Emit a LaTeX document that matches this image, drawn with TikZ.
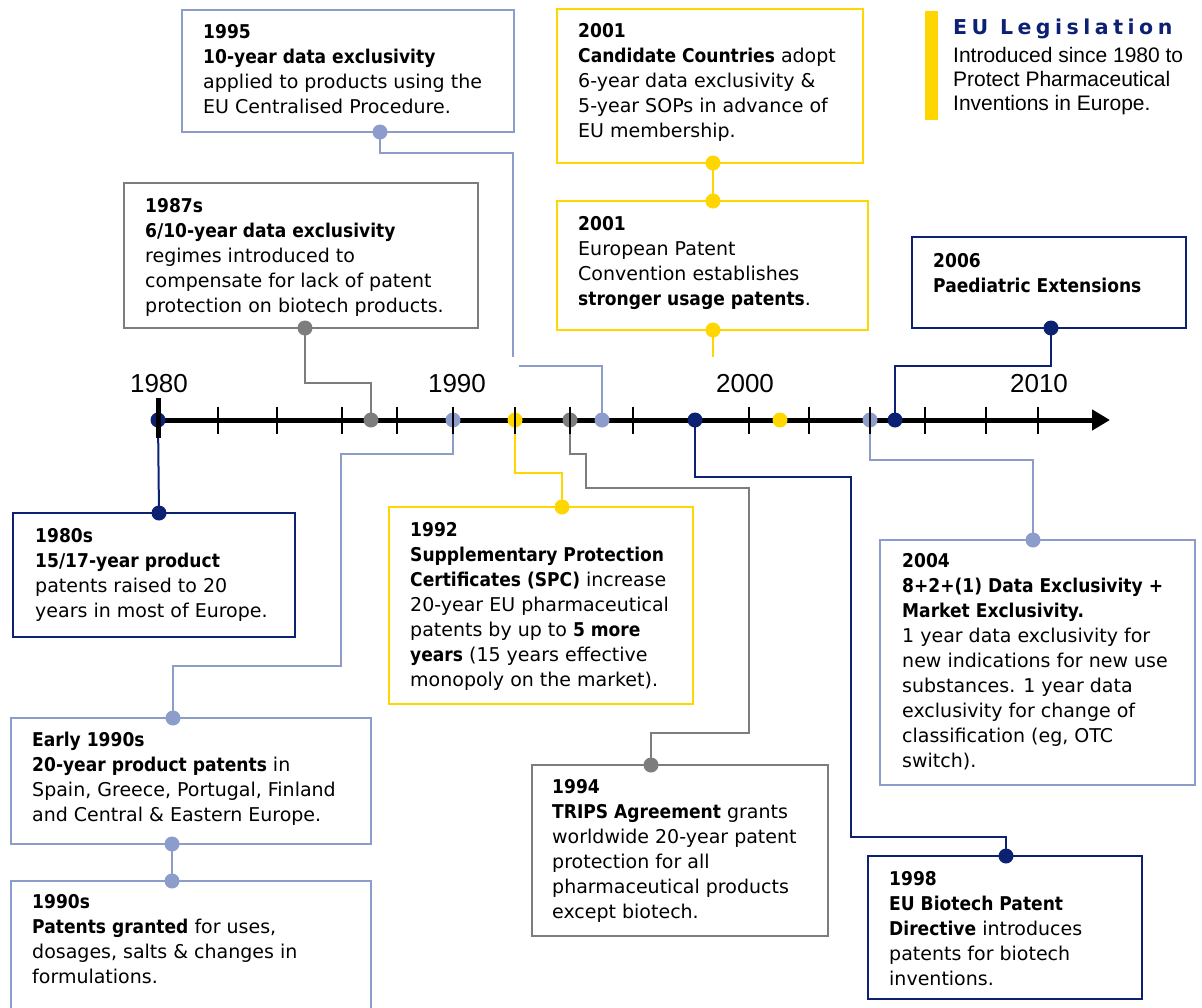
\documentclass[tikz,border=0pt]{standalone}
\usepackage{fontspec}
\setmainfont{DejaVu Sans}[BoldFeatures={FakeStretch=0.9}]
\newfontfamily\yearfont{Liberation Sans}
\newfontfamily\legfont{DejaVu Sans}[LetterSpace=22]
\usetikzlibrary{arrows.meta}
\definecolor{navyc}{RGB}{13,33,115}
\definecolor{lbc}{RGB}{140,157,204}
\definecolor{greyc}{RGB}{125,125,125}
\definecolor{yelc}{RGB}{255,214,0}
\newcommand\boxfont{\fontsize{19}{25}\selectfont}
\pgfdeclarelayer{bg}
\pgfsetlayers{bg,main}
\tikzset{
  box/.style={draw=#1, line width=2pt, anchor=north west, inner sep=0pt, outer sep=0pt},
  txt/.style={anchor=north west, inner sep=0pt, align=left, font=\boxfont},
  dot/.style={circle, fill=#1, inner sep=0pt, minimum size=15pt},
  con/.style={draw=#1, line width=2pt},
  yr/.style={font=\yearfont\fontsize{26}{30}\selectfont, anchor=base, inner sep=0pt},
}
\begin{document}
\begin{tikzpicture}[x=1pt,y=-1pt]
\useasboundingbox (0,0) rectangle (1202,1007);
\clip (0,0) rectangle (1202,1007);

% boxes
\node[box=lbc,   minimum width=332pt, minimum height=122pt] (b95)  at (182,10) {};
\node[box=greyc, minimum width=354pt, minimum height=145pt] (b87)  at (124,183) {};
\node[box=yelc,  minimum width=306pt, minimum height=154pt] (b01a) at (557,9) {};
\node[box=yelc,  minimum width=311pt, minimum height=129pt] (b01b) at (557,201) {};
\node[box=navyc, minimum width=274pt, minimum height=91pt]  (b06)  at (912,237) {};
\node[box=navyc, minimum width=282pt, minimum height=124pt] (b80)  at (13,513) {};
\node[box=yelc,  minimum width=304pt, minimum height=197pt] (b92)  at (389,507) {};
\node[box=lbc,   minimum width=360pt, minimum height=126pt] (bE90) at (11,718) {};
\node[box=lbc,   minimum width=360pt, minimum height=150pt] (b90s) at (11,881) {};
\node[box=greyc, minimum width=296pt, minimum height=171pt] (b94)  at (532,765) {};
\node[box=navyc, minimum width=274pt, minimum height=143pt] (b98)  at (868,856) {};
\node[box=lbc,   minimum width=315pt, minimum height=245pt] (b04)  at (880,540) {};

% texts
\node[txt] (t95) at (203,20.5) {\strut\textbf{1995}\\\textbf{10-year data exclusivity}\\applied to products using the\\EU Centralised Procedure.};
\node[txt] (t87) at (145,194.5) {\strut\textbf{1987s}\\\textbf{6/10-year data exclusivity}\\regimes introduced to\\compensate for lack of patent\\protection on biotech products.};
\node[txt] (t01a) at (578,19.5) {\strut\textbf{2001}\\\textbf{Candidate Countries} adopt\\6-year data exclusivity \&\\5-year SOPs in advance of\\EU membership.};
\node[txt] (t01b) at (578,212.5) {\strut\textbf{2001}\\European Patent\\Convention establishes\\\textbf{stronger usage patents}.};
\node[txt] (t06) at (933,249.5) {\strut\textbf{2006}\\\textbf{Paediatric Extensions}};
\node[txt] (t80) at (35,524.5) {\strut\textbf{1980s}\\\textbf{15/17-year product}\\patents raised to 20\\years in most of Europe.};
\node[txt] (t92) at (410,518.5) {\strut\textbf{1992}\\\textbf{Supplementary Protection}\\\textbf{Certificates (SPC)} increase\\20-year EU pharmaceutical\\patents by up to \textbf{5 more}\\\textbf{years} (15 years effective\\monopoly on the market).};
\node[txt] (tE90) at (32,728.5) {\strut\textbf{Early 1990s}\\\textbf{20-year product patents} in\\Spain, Greece, Portugal, Finland\\and Central \& Eastern Europe.};
\node[txt] (t90s) at (32,890.5) {\strut\textbf{1990s}\\\textbf{Patents granted} for uses,\\dosages, salts \& changes in\\formulations.};
\node[txt] (t94) at (552,775.5) {\strut\textbf{1994}\\\textbf{TRIPS Agreement} grants\\worldwide 20-year patent\\protection for all\\pharmaceutical products\\except biotech.};
\node[txt] (t98) at (889,867.5) {\strut\textbf{1998}\\\textbf{EU Biotech Patent}\\\textbf{Directive} introduces\\patents for biotech\\inventions.};
\node[txt] (t04) at (902,549.5) {\strut\textbf{2004}\\\textbf{8+2+(1) Data Exclusivity +}\\\textbf{Market Exclusivity.}\\1 year data exclusivity for\\new indications for new use\\substances. 1 year data\\exclusivity for change of\\classification (eg, OTC\\switch).};

% box dots
\node[dot=lbc]   (d95)   at (380,132) {};
\node[dot=greyc] (d87)   at (305,328) {};
\node[dot=yelc]  (d01a)  at (713,163) {};
\node[dot=yelc]  (d01bt) at (713,201) {};
\node[dot=yelc]  (d01b)  at (713,330) {};
\node[dot=navyc] (d06)   at (1051,328) {};
\node[dot=navyc] (d80)   at (159,513) {};
\node[dot=yelc]  (d92)   at (562,507) {};
\node[dot=lbc]   (dE90t) at (173,718) {};
\node[dot=lbc]   (dE90b) at (172,844) {};
\node[dot=lbc]   (d90s)  at (172,881) {};
\node[dot=greyc] (d94)   at (651,765) {};
\node[dot=navyc] (d98)   at (1006,856) {};
\node[dot=lbc]   (d04)   at (1033,540) {};

% axis dots
\node[dot=navyc] (a80) at (158,420) {};
\node[dot=greyc] (a87) at (371,420) {};
\node[dot=lbc]   (a90) at (453,420) {};
\node[dot=yelc]  (a92) at (515,420) {};
\node[dot=greyc] (a94) at (570,420) {};
\node[dot=lbc]   (a95) at (602,420) {};
\node[dot=navyc] (a98) at (695,420) {};
\node[dot=yelc]  (a01) at (780,420) {};
\node[dot=lbc]   (a04) at (870,420) {};
\node[dot=navyc] (a06) at (895,420) {};
\coordinate (axend) at (1110,420);
\coordinate (g95a) at (513,357);
\coordinate (g95b) at (519,366);
\coordinate (e01) at (713,357);

% ticks
\foreach \x in {218,277,342,397,453,515,570,633,749,809,870,925,986,1038}
  \draw[line width=2pt] (\x,406.5) -- (\x,433.5);
\draw[line width=5pt] (158,398) -- (158,438);

% year labels
\node[yr] (y80) at (159,392) {1980};
\node[yr] (y90) at (457,392) {1990};
\node[yr] (y00) at (745,392) {2000};
\node[yr] (y10) at (1039,392) {2010};

% legend
\fill[yelc] (925,11) rectangle (938,120);
\node[anchor=base west, inner sep=0pt, text=navyc, font=\legfont\bfseries\fontsize{20.5}{24}\selectfont] (legt) at (953,34) {EU Legislation};
\node[anchor=north west, inner sep=0pt, align=left, font=\yearfont\fontsize{21}{24}\selectfont] (legb) at (953,45.2) {\strut Introduced since 1980 to\\Protect Pharmaceutical\\Inventions in Europe.};

\begin{pgfonlayer}{bg}
\draw[line width=5pt,-{Triangle[length=18pt,width=20pt]}] (a80.center) -- (axend);
\draw[con=lbc] (d95.center) -- ++(0,21) -| (g95a);
\draw[con=lbc] (g95b) -| (a95.center);
\draw[con=greyc] (d87.center) -- ++(0,55) -| (a87.center);
\draw[con=yelc] (d01a.center) -- (d01bt.center);
\draw[con=yelc] (d01b.center) -- (e01);
\draw[con=navyc] (d06.center) -- ++(0,38) -| (a06.center);
\draw[con=navyc] (a80.center) -- (d80.center);
\draw[con=yelc] (a92.center) -- ++(0,53) -| (d92.center);
\draw[con=lbc] (a90.center) -- ++(0,34) -- ++(-112,0) -- ++(0,212) -| (dE90t.center);
\draw[con=lbc] (dE90b.center) -- (d90s.center);
\draw[con=greyc] (a94.center) -- ++(0,34) -- ++(16,0) -- ++(0,34) -- ++(163,0) -- ++(0,245) -| (d94.center);
\draw[con=navyc] (a98.center) -- ++(0,57) -- ++(156,0) -- ++(0,360) -| (d98.center);
\draw[con=lbc] (a04.center) -- ++(0,40) -| (d04.center);
\end{pgfonlayer}
\end{tikzpicture}
\end{document}
